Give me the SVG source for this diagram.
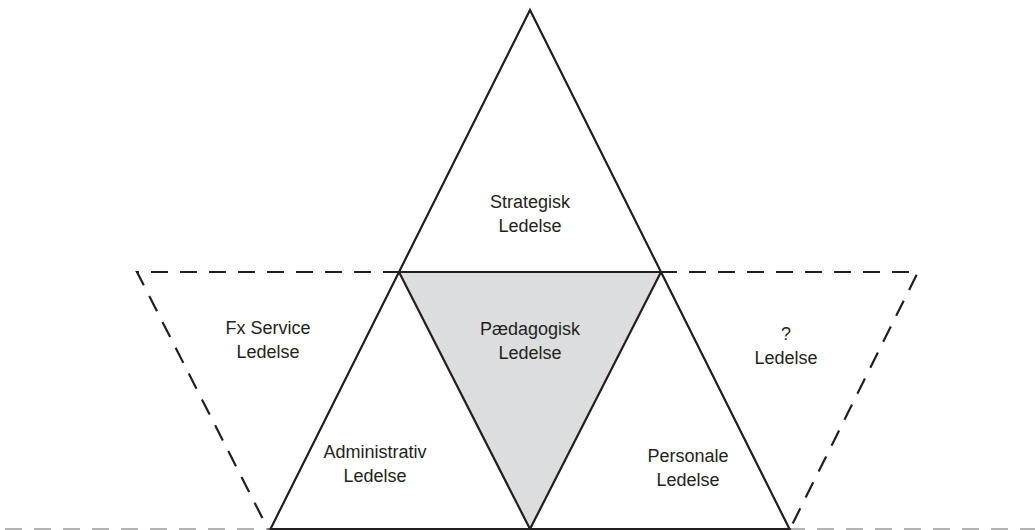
<svg xmlns="http://www.w3.org/2000/svg" width="1035" height="530" viewBox="0 0 1035 530">
  <style>
    .solid { fill: none; stroke: #231f20; stroke-width: 2.2; stroke-linejoin: miter; }
    .dash { fill: none; stroke: #231f20; stroke-width: 2.2; stroke-dasharray: 17 12; }
    .base { fill: none; stroke: #9a9a9a; stroke-width: 1.5; }
    .base-dash { fill: none; stroke: #9a9a9a; stroke-width: 1.5; stroke-dasharray: 17 12; }
    .lbl { font-family: "Liberation Sans", Arial, sans-serif; font-size: 18px; fill: #231f20; text-anchor: middle; }
  </style>
  <rect width="1035" height="530" fill="#ffffff"/>

  <g id="connectors">
    <!-- ground line -->
    <line class="base-dash" x1="5" y1="529" x2="1035" y2="529"/>
    <line class="base" x1="268" y1="529" x2="792" y2="529"/>
    <!-- dashed side triangles -->
    <polyline class="dash" points="400,272 137,272 268,529"/>
    <polyline class="dash" points="660,272 918,272 790,529"/>
  </g>

  <g id="node-paedagogisk">
    <polygon points="399,272 661,272 530,529" fill="#dcdddf" stroke="none"/>
    <text class="lbl" x="530" y="335">Pædagogisk</text>
    <text class="lbl" x="530" y="359">Ledelse</text>
  </g>

  <g id="node-strategisk">
    <text class="lbl" x="530" y="208">Strategisk</text>
    <text class="lbl" x="530" y="232">Ledelse</text>
  </g>

  <g id="node-administrativ">
    <text class="lbl" x="375" y="458">Administrativ</text>
    <text class="lbl" x="375" y="482">Ledelse</text>
  </g>

  <g id="node-personale">
    <text class="lbl" x="688" y="462">Personale</text>
    <text class="lbl" x="688" y="486">Ledelse</text>
  </g>

  <g id="node-service">
    <text class="lbl" x="268" y="334">Fx Service</text>
    <text class="lbl" x="268" y="358">Ledelse</text>
  </g>

  <g id="node-unknown">
    <text class="lbl" x="786" y="340">?</text>
    <text class="lbl" x="786" y="364">Ledelse</text>
  </g>

  <!-- the big solid triangle frame -->
  <g id="frame">
    <polygon class="solid" points="530,10 270.5,529 789.5,529"/>
    <polyline class="solid" points="399,272 530,529 661,272"/>
    <line class="solid" x1="399" y1="272" x2="661" y2="272"/>
  </g>
</svg>
